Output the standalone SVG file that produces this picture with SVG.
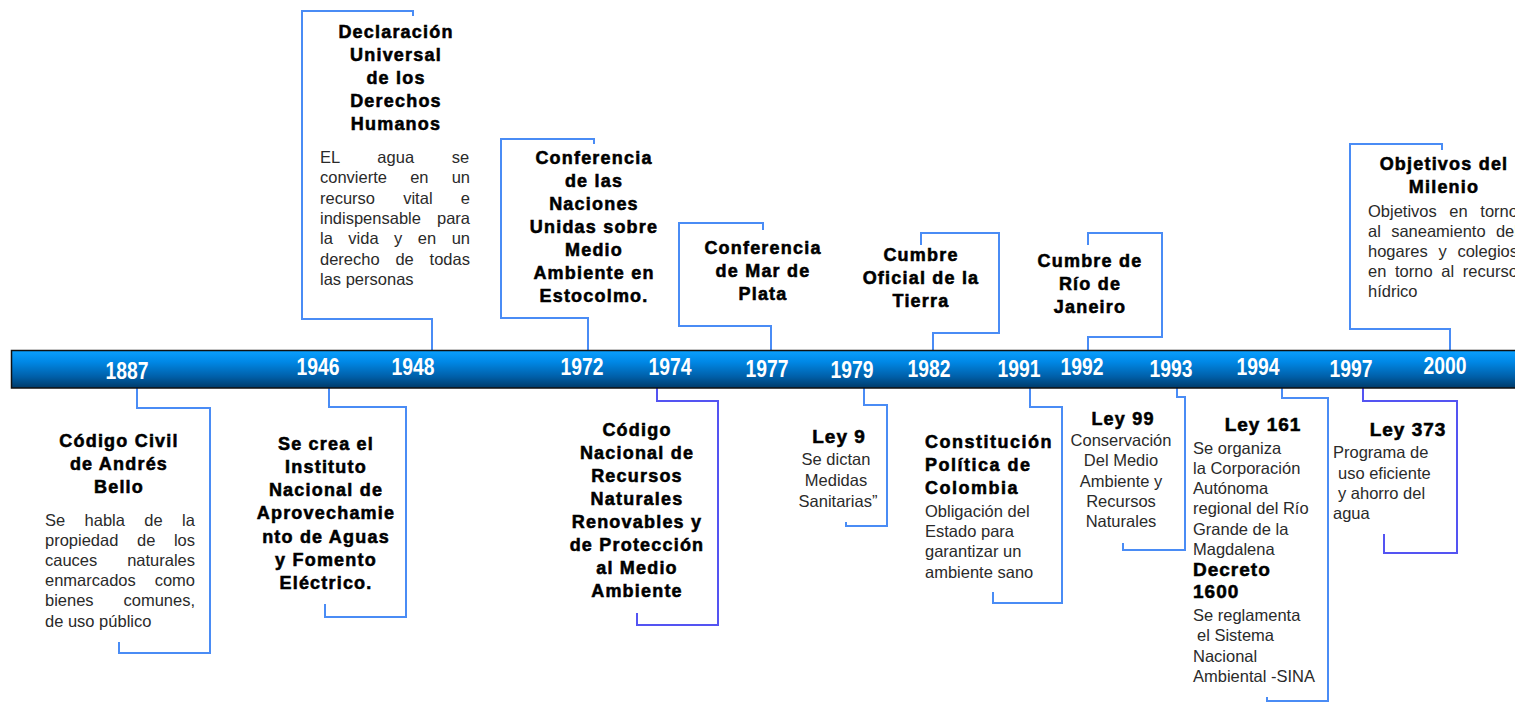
<svg xmlns="http://www.w3.org/2000/svg" width="1515" height="703" viewBox="0 0 1515 703">
<defs>
<linearGradient id="barg" x1="0" y1="0" x2="0" y2="1">
<stop offset="0" stop-color="#0aa0ff"/>
<stop offset="0.3" stop-color="#0088e6"/>
<stop offset="0.7" stop-color="#005fa8"/>
<stop offset="1" stop-color="#003a68"/>
</linearGradient>
<style>
.t{font-family:"Liberation Sans",Arial,sans-serif;font-weight:bold;font-size:18px;letter-spacing:1.2px;fill:#000;text-anchor:middle;stroke:#000;stroke-width:0.55px}
.tl{text-anchor:start}
.lg{font-size:19px;letter-spacing:1px}
.d{font-family:"Liberation Sans",Arial,sans-serif;font-size:16.5px;fill:#2a2a2a}
.dc{text-anchor:middle}
.yr{font-family:"Liberation Sans Narrow","Liberation Sans",Arial,sans-serif;font-weight:bold;font-size:23px;fill:#fff;text-anchor:middle}
.br{fill:none;stroke:#4a8cf5;stroke-width:2}
.bp{stroke:#5454f2}
</style>
</defs>
<rect width="1515" height="703" fill="#fff"/>

<g id="connectors">
<path class="br" d="M413,16 V11 H302 V319 H432 V350"/>
<path class="br" d="M594,144 V139 H501 V318 H588 V350"/>
<path class="br" d="M763,230 V223 H679 V326 H771 V350"/>
<path class="br" d="M921,245 V233 H999 V333 H933 V350"/>
<path class="br" d="M1088,245 V233 H1162 V337 H1088 V350"/>
<path class="br" d="M1442,150 V144 H1350 V329 H1450 V350"/>
<path class="br" d="M137,388 V408 H210 V653 H119 V642"/>
<path class="br" d="M329,388 V407 H406 V617 H325 V604"/>
<path class="br bp" d="M657,388 V401 H718 V625 H637 V613"/>
<path class="br" d="M864,388 V405 H887 V526 H846 V522"/>
<path class="br" d="M1030,388 V407 H1062 V603 H993 V592"/>
<path class="br" d="M1177,388 V397 H1185 V550 H1123 V543"/>
<path class="br" d="M1282,388 V398 H1328 V701 H1267 V697"/>
<path class="br bp" d="M1363,388 V401 H1457 V553 H1384 V534"/>
</g>

<g id="timeline">
<rect x="11.5" y="350.5" width="1520" height="37.5" fill="url(#barg)" stroke="#111" stroke-width="1.5"/>
<text class="yr" x="127" y="379" textLength="43" lengthAdjust="spacingAndGlyphs">1887</text>
<text class="yr" x="318" y="375" textLength="43" lengthAdjust="spacingAndGlyphs">1946</text>
<text class="yr" x="413" y="375" textLength="43" lengthAdjust="spacingAndGlyphs">1948</text>
<text class="yr" x="582" y="375" textLength="43" lengthAdjust="spacingAndGlyphs">1972</text>
<text class="yr" x="670" y="375" textLength="43" lengthAdjust="spacingAndGlyphs">1974</text>
<text class="yr" x="767" y="377" textLength="43" lengthAdjust="spacingAndGlyphs">1977</text>
<text class="yr" x="852" y="378" textLength="43" lengthAdjust="spacingAndGlyphs">1979</text>
<text class="yr" x="929" y="377" textLength="43" lengthAdjust="spacingAndGlyphs">1982</text>
<text class="yr" x="1019" y="377" textLength="43" lengthAdjust="spacingAndGlyphs">1991</text>
<text class="yr" x="1082" y="375" textLength="43" lengthAdjust="spacingAndGlyphs">1992</text>
<text class="yr" x="1171" y="377" textLength="43" lengthAdjust="spacingAndGlyphs">1993</text>
<text class="yr" x="1258" y="375" textLength="43" lengthAdjust="spacingAndGlyphs">1994</text>
<text class="yr" x="1351" y="377" textLength="43" lengthAdjust="spacingAndGlyphs">1997</text>
<text class="yr" x="1445" y="374" textLength="43" lengthAdjust="spacingAndGlyphs">2000</text>
</g>

<g id="n1948">
<text class="t" x="396" y="38">Declaración</text>
<text class="t" x="396" y="61">Universal</text>
<text class="t" x="396" y="84">de los</text>
<text class="t" x="396" y="107">Derechos</text>
<text class="t" x="396" y="130">Humanos</text>
<text class="d" x="320" y="163" word-spacing="33.2">EL agua se</text>
<text class="d" x="320" y="183" word-spacing="18.6">convierte en un</text>
<text class="d" x="320" y="204" word-spacing="23.6">recurso vital e</text>
<text class="d" x="320" y="224" word-spacing="11.5">indispensable para</text>
<text class="d" x="320" y="244" word-spacing="10.9">la vida y en un</text>
<text class="d" x="320" y="265" word-spacing="11.2">derecho de todas</text>
<text class="d" x="320" y="285">las personas</text>
</g>

<g id="n1972">
<text class="t" x="594" y="164">Conferencia</text>
<text class="t" x="594" y="187">de las</text>
<text class="t" x="594" y="210">Naciones</text>
<text class="t" x="594" y="233">Unidas sobre</text>
<text class="t" x="594" y="256">Medio</text>
<text class="t" x="594" y="279">Ambiente en</text>
<text class="t" x="594" y="302">Estocolmo.</text>
</g>

<g id="n1977">
<text class="t" x="763" y="254">Conferencia</text>
<text class="t" x="763" y="277">de Mar de</text>
<text class="t" x="763" y="300">Plata</text>
</g>

<g id="n1982">
<text class="t" x="921" y="261">Cumbre</text>
<text class="t" x="921" y="284">Oficial de la</text>
<text class="t" x="921" y="307">Tierra</text>
</g>

<g id="n1992">
<text class="t" x="1090" y="267">Cumbre de</text>
<text class="t" x="1090" y="290">Río de</text>
<text class="t" x="1090" y="313">Janeiro</text>
</g>

<g id="n2000">
<text class="t" x="1444" y="170">Objetivos del</text>
<text class="t" x="1444" y="193">Milenio</text>
<text class="d" x="1368" y="217" word-spacing="8">Objetivos en torno</text>
<text class="d" x="1368" y="237" word-spacing="5.7">al saneamiento del</text>
<text class="d" x="1368" y="257" word-spacing="6.2">hogares y colegios</text>
<text class="d" x="1368" y="277" word-spacing="4.1">en torno al recurso</text>
<text class="d" x="1368" y="297">hídrico</text>
</g>

<g id="n1887">
<text class="t" x="119" y="447">Código Civil</text>
<text class="t" x="119" y="470">de Andrés</text>
<text class="t" x="119" y="493">Bello</text>
<text class="d" x="45" y="526" word-spacing="14.8">Se habla de la</text>
<text class="d" x="45" y="546" word-spacing="14">propiedad de los</text>
<text class="d" x="45" y="566" word-spacing="25.3">cauces naturales</text>
<text class="d" x="45" y="586" word-spacing="14.3">enmarcados como</text>
<text class="d" x="45" y="606" word-spacing="25.3">bienes comunes,</text>
<text class="d" x="45" y="627">de uso público</text>
</g>

<g id="n1946">
<text class="t" x="326" y="450">Se crea el</text>
<text class="t" x="326" y="473">Instituto</text>
<text class="t" x="326" y="496">Nacional de</text>
<text class="t" x="326" y="519">Aprovechamie</text>
<text class="t" x="326" y="543">nto de Aguas</text>
<text class="t" x="326" y="566">y Fomento</text>
<text class="t" x="326" y="589">Eléctrico.</text>
</g>

<g id="n1974">
<text class="t" x="637" y="436">Código</text>
<text class="t" x="637" y="459">Nacional de</text>
<text class="t" x="637" y="482">Recursos</text>
<text class="t" x="637" y="505">Naturales</text>
<text class="t" x="637" y="528">Renovables y</text>
<text class="t" x="637" y="551">de Protección</text>
<text class="t" x="637" y="574">al Medio</text>
<text class="t" x="637" y="597">Ambiente</text>
</g>

<g id="n1979">
<text class="t lg" x="839" y="443">Ley 9</text>
<text class="d dc" x="836" y="465">Se dictan</text>
<text class="d dc" x="836" y="486">Medidas</text>
<text class="d dc" x="838" y="507">Sanitarias”</text>
</g>

<g id="n1991">
<text class="t tl" x="925" y="448" style="letter-spacing:1.5px">Constitución</text>
<text class="t tl" x="925" y="471" style="letter-spacing:1.5px">Política de</text>
<text class="t tl" x="925" y="494" style="letter-spacing:1.5px">Colombia</text>
<text class="d" x="925" y="517">Obligación del</text>
<text class="d" x="925" y="537">Estado para</text>
<text class="d" x="925" y="557">garantizar un</text>
<text class="d" x="925" y="578">ambiente sano</text>
</g>

<g id="n1993">
<text class="t" x="1123" y="425">Ley 99</text>
<text class="d dc" x="1121" y="446">Conservación</text>
<text class="d dc" x="1121" y="466">Del Medio</text>
<text class="d dc" x="1121" y="487">Ambiente y</text>
<text class="d dc" x="1121" y="507">Recursos</text>
<text class="d dc" x="1121" y="527">Naturales</text>
</g>

<g id="n1994">
<text class="t lg" x="1263" y="431">Ley 161</text>
<text class="d" x="1193" y="454">Se organiza</text>
<text class="d" x="1193" y="474">la Corporación</text>
<text class="d" x="1193" y="494">Autónoma</text>
<text class="d" x="1193" y="514">regional del Río</text>
<text class="d" x="1193" y="535">Grande de la</text>
<text class="d" x="1193" y="555">Magdalena</text>
<text class="t tl lg" x="1193" y="576">Decreto</text>
<text class="t tl lg" x="1193" y="598">1600</text>
<text class="d" x="1193" y="621">Se reglamenta</text>
<text class="d" x="1197" y="641">el Sistema</text>
<text class="d" x="1193" y="662">Nacional</text>
<text class="d" x="1193" y="682">Ambiental -SINA</text>
</g>

<g id="n1997">
<text class="t lg" x="1408" y="436">Ley 373</text>
<text class="d" x="1333" y="458">Programa de</text>
<text class="d" x="1338" y="479">uso eficiente</text>
<text class="d" x="1338" y="499">y ahorro del</text>
<text class="d" x="1333" y="519">agua</text>
</g>
</svg>
